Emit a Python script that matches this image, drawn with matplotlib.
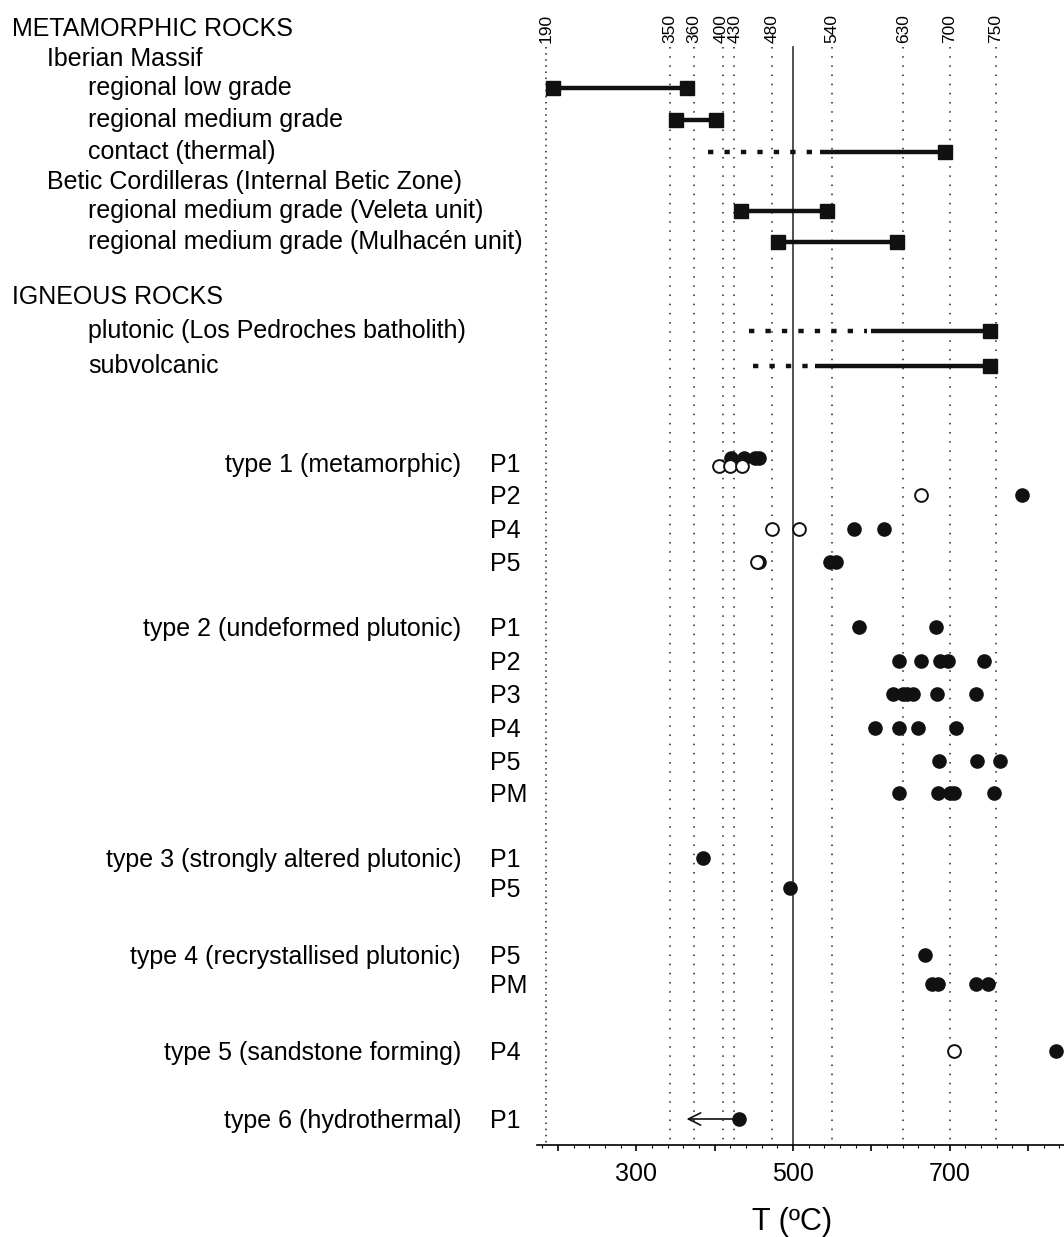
import numpy as np
import matplotlib.pyplot as plt
from matplotlib.ticker import FixedLocator, MultipleLocator, FuncFormatter

plt.rcParams['font.family'] = ['Liberation Sans', 'DejaVu Sans']

# dotted reference temperatures: where they are drawn, and what is printed on top
guide_T = [185, 343, 373, 410, 425, 473, 550, 641, 700, 759]
guide_labels = ['190', '350', '360', '400', '430', '480', '540', '630', '700', '750']

# temperature ranges of the possible source rocks
range_names = ['regional low grade', 'regional medium grade', 'contact (thermal)',
               'regional medium grade (Veleta unit)',
               'regional medium grade (Mulhacén unit)',
               'plutonic (Los Pedroches batholith)', 'subvolcanic']
range_dot_start = [None, None, 391, None, None, 444, 449]   # uncertain (dotted) part
range_dot_end = [None, None, 527, None, None, 594, 520]
range_lo = [193, 351, 534, 433, 481, 599, 528]
range_hi = [364, 402, 694, 543, 633, 751, 751]
range_lo_box = [True, True, False, True, True, False, False]

# tourmaline types and populations
type_names = ['type 1 (metamorphic)', 'type 2 (undeformed plutonic)',
              'type 3 (strongly altered plutonic)', 'type 4 (recrystallised plutonic)',
              'type 5 (sandstone forming)', 'type 6 (hydrothermal)']
type_rows = [['P1', 'P2', 'P4', 'P5'],
             ['P1', 'P2', 'P3', 'P4', 'P5', 'PM'],
             ['P1', 'P5'],
             ['P5', 'PM'],
             ['P4'],
             ['P1']]
filled_T = [[421, 437, 451, 456], [792], [578, 616], [457, 547, 555],
            [584, 683], [635, 664, 688, 698, 744], [627, 640, 646, 653, 684, 733],
            [605, 635, 659, 708], [687, 735, 764], [635, 685, 700, 705, 756],
            [385], [496],
            [668], [678, 685, 733, 749],
            [836],
            [431]]
open_T = [[406, 420, 435], [664], [473, 508], [454],
          [], [], [], [], [], [],
          [], [],
          [], [],
          [705],
          []]
arrow_to_T = 364      # type 6 value is a maximum
x_ticks = [200, 300, 400, 500, 600, 700, 800]
x_ticklabels = ['', '300', '', '500', '', '700', '']

# ---- layout (pixels of a 1064 x 1237 figure) ----
W, H = 1064, 1237
fig = plt.figure(figsize=(W / 100, H / 100), dpi=100)
ax_left, ax_bottom_px = 537, 1145
ax = fig.add_axes([ax_left / W, (H - ax_bottom_px) / H, (W - ax_left) / W, ax_bottom_px / H])
ax.set_xlim(173, 846)
ax.set_ylim(ax_bottom_px, 0)   # y in pixel rows from the top

def ftext(x, y, s, **kw):
    fig.text(x / W, 1 - (y + 2) / H, s, fontsize=18, va='center', **kw)

top_y = 47
range_y = [88, 120, 152, 211, 242, 331, 366]
row_y = [463, 495, 529, 562, 627, 661, 694, 728, 761, 793, 858, 888, 955, 984, 1051, 1119]

# guides
nudge = {'400': -1.5, '430': 1.5}
for t, lab in zip(guide_T, guide_labels):
    ls = (0, (1, 3)) if lab == '190' else (0, (1, 5))
    ax.plot([t, t], [top_y, ax_bottom_px], color='#222222', lw=1.1, ls=ls, zorder=1)
    ax.text(t + nudge.get(lab, 0), 43, lab, rotation=90, ha='center', va='bottom',
            fontsize=12.5, clip_on=False)
ax.plot([500, 500], [top_y, ax_bottom_px], color='#333333', lw=1.2, zorder=1)

# headers
ftext(12, 27, 'METAMORPHIC ROCKS')
ftext(47, 57, 'Iberian Massif')
ftext(47, 180, 'Betic Cordilleras (Internal Betic Zone)')
ftext(12, 295, 'IGNEOUS ROCKS')
for name, y in zip(range_names, range_y):
    ftext(88, y - 2, name)

# ranges
for i, y in enumerate(range_y):
    if range_dot_start[i] is not None:
        ax.plot([range_dot_start[i], range_dot_end[i]], [y, y], color='#111111', lw=3.2,
                ls=(0, (1.2, 2.5)), solid_capstyle='butt', dash_capstyle='butt', zorder=3)
    ax.plot([range_lo[i], range_hi[i]], [y, y], color='#111111', lw=3.2,
            solid_capstyle='butt', zorder=3)
    ax.plot([range_hi[i]], [y], 's', color='#111111', ms=9.5, zorder=4)
    if range_lo_box[i]:
        ax.plot([range_lo[i]], [y], 's', color='#111111', ms=9.5, zorder=4)

# types
k = 0
for name, rows in zip(type_names, type_rows):
    ftext(461, row_y[k], name, ha='right')
    for r in rows:
        y = row_y[k]
        ftext(490, y, r)
        yf, yo = (y - 5, y + 3) if k == 0 else (y, y)
        ax.plot(filled_T[k], [yf] * len(filled_T[k]), 'o', color='#111111', ms=9.5,
                ls='none', zorder=5)
        if open_T[k]:
            ax.plot(open_T[k], [yo] * len(open_T[k]), 'o', mfc='white', mec='#111111',
                    mew=1.4, ms=9.2, ls='none', zorder=6)
        k += 1

# type 6 arrow
ax.annotate('', xy=(arrow_to_T, row_y[-1]), xytext=(filled_T[-1][0], row_y[-1]),
            arrowprops=dict(arrowstyle='->', lw=1.2, color='#111111', mutation_scale=22,
                            shrinkA=0, shrinkB=0), zorder=4)

# axis
for s in ['left', 'top', 'right']:
    ax.spines[s].set_visible(False)
ax.spines['bottom'].set_linewidth(1.2)
ax.set_yticks([])
ax.xaxis.set_major_locator(FixedLocator(x_ticks))
ax.xaxis.set_major_formatter(FuncFormatter(lambda v, p: x_ticklabels[x_ticks.index(int(round(v)))]))
ax.xaxis.set_minor_locator(MultipleLocator(20))
ax.tick_params(axis='x', which='major', length=4, width=1.2, pad=8, labelsize=18)
ax.tick_params(axis='x', which='minor', length=2, width=0.8)
ax.set_xlabel('T (ºC)', fontsize=22)
ax.xaxis.set_label_coords((792 - ax_left) / (W - ax_left), -(1222 - ax_bottom_px) / ax_bottom_px)
ax.xaxis.label.set_va('center')

fig.savefig('out.png', dpi=100)
